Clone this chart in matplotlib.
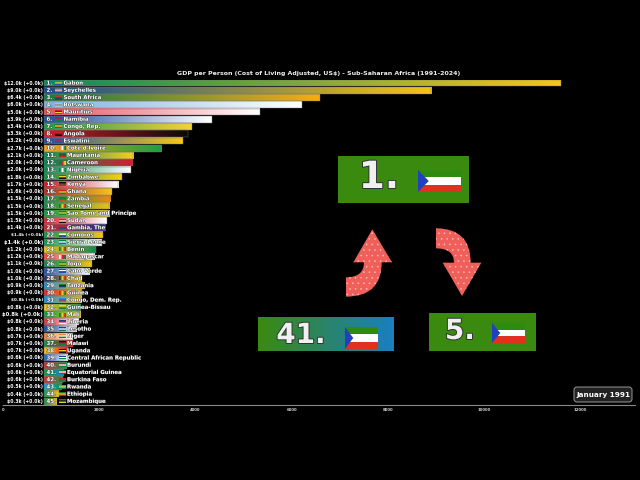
import matplotlib
matplotlib.use("Agg")
import matplotlib.pyplot as plt
import matplotlib.patheffects as pe
from matplotlib.colors import to_rgb, LinearSegmentedColormap
from matplotlib.patches import Rectangle, Polygon, FancyBboxPatch, PathPatch
from matplotlib.path import Path
import numpy as np

plt.rcParams['font.family'] = 'DejaVu Sans'
plt.rcParams['font.weight'] = 'bold'
plt.rcParams['hatch.linewidth'] = 0.3

countries = ["Gabon","Seychelles","South Africa","Botswana","Mauritius","Namibia","Congo, Rep.","Angola","Eswatini",
 "Cote d'Ivoire","Mauritania","Cameroon","Nigeria","Zimbabwe","Kenya","Ghana","Zambia","Senegal","Sao Tome and Principe",
 "Sudan","Gambia, The","Comoros","Sierra Leone","Benin","Madagascar","Togo","Cabo Verde","Chad","Tanzania","Guinea",
 "Congo, Dem. Rep.","Guinea-Bissau","Mali","Liberia","Lesotho","Niger","Malawi","Uganda","Central African Republic",
 "Burundi","Equatorial Guinea","Burkina Faso","Rwanda","Ethiopia","Mozambique"]
values = [11600,8900,6590,6216,5343,4345,3929,3846,3742,3285,2703,2682,2661,2474,2391,2266,2225,2204,2204,2162,2121,2079,
 2058,1933,1892,1850,1788,1642,1684,1642,1622,1601,1601,1580,1518,1455,1435,1351,1351,1310,1268,1247,1206,1164,1102]
value_labels = ["$12.0k","$9.0k","$6.4k","$6.0k","$5.0k","$3.9k","$3.4k","$3.3k","$3.2k","$2.7k","$2.1k","$2.0k","$2.0k",
 "$1.8k","$1.7k","$1.6k","$1.5k","$1.5k","$1.5k","$1.5k","$1.4k","$1.4k","$1.4k","$1.2k","$1.2k","$1.1k","$1.0k","$1.0k",
 "$0.9k","$0.9k","$0.8k","$0.8k","$0.8k","$0.8k","$0.8k","$0.7k","$0.7k","$0.7k","$0.6k","$0.6k","$0.6k","$0.6k","$0.5k",
 "$0.4k","$0.3k"]
label_scale = {21:0.9, 22:1.12, 30:0.9, 32:1.15}
left_colors = ["#0f8a5c","#1a4f8c","#1a7a46","#7fb2dc","#ee5060","#1f4fa0","#1f9a50","#cc1f2a","#2a4fa0","#f5a020","#0a8a50",
 "#0a8a50","#0a8a50","#10904a","#c8202c","#b03028","#10904a","#10904a","#10a040","#d02a30","#d02a30","#129a50","#109a50",
 "#f5c518","#e85040","#0c8a50","#2050b0","#203070","#2090d0","#d82a30","#1890e0","#f0c820","#10a040","#e03040","#1848a8",
 "#f08030","#10904a","#f5c518","#2060c0","#d82a30","#10a040","#d82a30","#20a0e0","#109a50","#10904a"]
right_colors = ["#f5c518","#f8c310","#f5ad12","#ffffff","#ffffff","#ffffff","#f5d040","#0a0a0a","#f7c818","#1aa040","#f5cf20",
 "#d02030","#ffffff","#fbd010","#ffffff","#f5c518","#f08a10","#f0c018","#f5c518","#ffffff","#2030a0","#f5c518","#ffffff",
 "#108a50","#ffffff","#f5c518","#ffffff","#f5c518","#f5c518","#e5b818","#f5c518","#10904a","#f0c820","#ffffff","#ffffff",
 "#ffffff","#d02020","#d02020","#ffffff","#109a50","#1f7fd0","#10a050","#10904a","#f5c518","#f5c518"]
flags = [("h",["#10a040","#f5d020","#2050b0"]),("h",["#2050a0","#f5d020","#d02030","#fff","#108040"]),("h",["#d03030","#205030","#2040a0"]),
 ("h",["#80b8e0","#fff","#111","#fff","#80b8e0"]),("h",["#d02030","#203090","#f5d020","#108040"]),("h",["#2050a0","#d02030","#108040"]),
 ("h",["#108040","#f5d020","#d02030"]),("h",["#d02030","#111"]),("h",["#3050a0","#d02030","#3050a0"]),("v",["#f08020","#fff","#108040"]),
 ("h",["#c02030","#106040","#c02030"]),("v",["#108040","#d02030","#f5d020"]),("v",["#108040","#fff","#108040"]),("h",["#108040","#f5d020","#d02030","#111"]),
 ("h",["#111","#c02030","#108040"]),("h",["#d02030","#f5d020","#108040"]),("h",["#108040","#108040","#d05020"]),("v",["#108040","#f5d020","#d02030"]),
 ("h",["#108040","#f5d020","#108040"]),("h",["#d02030","#fff","#111"]),("h",["#c02030","#2030a0","#108040"]),("h",["#f5d020","#fff","#d02030","#2050a0"]),
 ("h",["#108040","#fff","#2060c0"]),("v",["#108040","#f5d020","#d02030"]),("v",["#fff","#d02030","#108040"]),("h",["#108040","#f5d020","#108040"]),
 ("h",["#2050b0","#fff","#d02030","#2050b0"]),("v",["#203070","#f5d020","#d02030"]),("h",["#108040","#111","#2090d0"]),("v",["#d02030","#f5d020","#108040"]),
 ("h",["#2090e0","#d02030","#2090e0"]),("h",["#f5d020","#108040"]),("v",["#108040","#f5d020","#d02030"]),("h",["#2040a0","#d02030","#fff"]),
 ("h",["#2040a0","#fff","#108040"]),("h",["#f08030","#fff","#108040"]),("h",["#111","#c02030","#108040"]),("h",["#111","#f5d020","#d02030","#111"]),
 ("h",["#2040a0","#fff","#108040","#f5d020"]),("h",["#d02030","#fff","#108040"]),("h",["#108040","#fff","#d02030"]),("h",["#d02030","#108040"]),
 ("h",["#20a0e0","#f5d020","#108040"]),("h",["#108040","#f5d020","#d02030"]),("h",["#108040","#111","#f5d020"])]
ticks = [0,2000,4000,6000,8000,10000,12000]
title = "GDP per Person (Cost of Living Adjusted, US$) - Sub-Saharan Africa (1991-2024)"
date_label = "January 1991"

fig = plt.figure(figsize=(6.4,4.8), dpi=100, facecolor="black")
PX = 0.0481
ax = fig.add_axes([3/640, (480-405)/480, 632/640, (405-79.5)/480], facecolor="black")
def px2x(p):
    return (p-3)/PX

start = px2x(44)
for i,(c,v) in enumerate(zip(countries,values)):
    cmap = LinearSegmentedColormap.from_list("g",[left_colors[i],right_colors[i]])
    ax.imshow(np.linspace(0,1,128).reshape(1,-1), cmap=cmap, aspect="auto",
              extent=[start,v,i+0.46,i-0.46], zorder=2, interpolation="bilinear")
    ax.barh(i, v-start, left=start, height=0.92, facecolor="none", edgecolor="#777777", linewidth=0.3, zorder=3)
    ax.text(px2x(43), i, f"{value_labels[i]} (+0.0k)", ha="right", va="center", color="white",
            fontsize=3.3*label_scale.get(i,1), zorder=5)
    stroke = [pe.withStroke(linewidth=0.4, foreground="#222222")]
    ax.text(px2x(46.5), i, f"{i+1}.", ha="left", va="center", color="white", fontsize=3.9, zorder=5, path_effects=stroke)
    two = i >= 9
    ax.text(px2x(67 if two else 63.5), i, c, ha="left", va="center", color="white", fontsize=3.9, zorder=6, path_effects=stroke)
    o, cols = flags[i]
    arr = np.array([to_rgb(k) for k in cols])
    arr = arr.reshape(-1,1,3) if o=="h" else arr.reshape(1,-1,3)
    fx = (59,65.5) if two else (55,62)
    ax.imshow(arr, aspect="auto", extent=[px2x(fx[0]),px2x(fx[1]),i+0.27,i-0.27], zorder=4, interpolation="bilinear")

ax.set_xlim(0, px2x(635))
ax.set_ylim(44.5,-0.5)
ax.set_yticks([])
ax.set_xticks(ticks)
ax.tick_params(axis="x", colors="#cccccc", labelsize=2.8, length=1, width=0.3, pad=1)
for s in ["top","left","right"]:
    ax.spines[s].set_visible(False)
ax.spines["bottom"].set_color("#888888")
ax.spines["bottom"].set_linewidth(0.8)

ov = fig.add_axes([0,0,1,1], facecolor="none")
ov.set_xlim(0,640); ov.set_ylim(480,0); ov.axis("off")
ov.text(319, 73, title, ha="center", va="center", color="#eeeeee", fontsize=4.5)

def mini_flag(x0,y0,x1,y1):
    h=(y1-y0)/3
    for k,col in enumerate(["#2e8b10","#ffffff","#e03020"]):
        ov.add_patch(Rectangle((x0,y0+k*h),x1-x0,h,facecolor=col,edgecolor="none",zorder=6))
    ov.add_patch(Polygon([(x0,y0),(x0+(x1-x0)*0.25,(y0+y1)/2),(x0,y1)],facecolor="#2040c0",edgecolor="none",zorder=7))

boxes = [(338,156,469,203,"1.",379,178,27,(418,170,461,192)),
         (258,317,394,351,"41.",301,335,20,(345,327,378,349)),
         (429,313,536,351,"5.",460,331,20,(492,323,525,343))]
for x0,y0,x1,y1,t,tx,ty,fs,fl in boxes:
    if t=="41.":
        cm = LinearSegmentedColormap.from_list("b",["#3a8a10","#1a7fc0"])
        ov.imshow(np.linspace(0,1,64).reshape(1,-1), cmap=cm, aspect="auto", extent=[x0,x1,y1,y0], zorder=4)
    else:
        ov.add_patch(Rectangle((x0,y0),x1-x0,y1-y0,facecolor="#3a8a10",edgecolor="none",zorder=4))
    ov.text(tx,ty,t,ha="center",va="center",color="#f0f0f0",fontsize=fs,zorder=6,
            path_effects=[pe.withStroke(linewidth=1.4,foreground="#333333")])
    mini_flag(*fl)
ov.set_xlim(0,640); ov.set_ylim(480,0)

def z(a,b):
    return (240+a/3, 140+b/3)
up = [(Path.MOVETO,(318,470)),(Path.CURVE3,(425,470)),(Path.CURVE3,(425,367)),(Path.LINETO,(456,367)),(Path.LINETO,(397,268)),
      (Path.LINETO,(340,367)),(Path.LINETO,(372,367)),(Path.CURVE3,(372,412)),(Path.CURVE3,(318,412)),(Path.CLOSEPOLY,(318,470))]
down = [(Path.MOVETO,(588,265)),(Path.CURVE3,(692,265)),(Path.CURVE3,(692,368)),(Path.LINETO,(724,368)),(Path.LINETO,(666,468)),
        (Path.LINETO,(608,368)),(Path.LINETO,(642,368)),(Path.CURVE3,(642,325)),(Path.CURVE3,(588,325)),(Path.CLOSEPOLY,(588,265))]
for arrow in (up, down):
    path = Path([z(*p) for _,p in arrow],[c for c,_ in arrow])
    ov.add_patch(PathPatch(path, facecolor="#f0605a", edgecolor="none", zorder=5))
    ov.add_patch(PathPatch(path, facecolor="none", edgecolor="#ffc8c4", hatch="...", linewidth=0, zorder=5))

ov.add_patch(FancyBboxPatch((576,389),54,11,boxstyle="round,pad=2,rounding_size=3",facecolor="#222222",edgecolor="#999999",linewidth=0.7,zorder=6))
ov.text(603,394.5,date_label,ha="center",va="center",color="white",fontsize=5.2,zorder=7)

fig.savefig("out.png", dpi=100, facecolor="black")
